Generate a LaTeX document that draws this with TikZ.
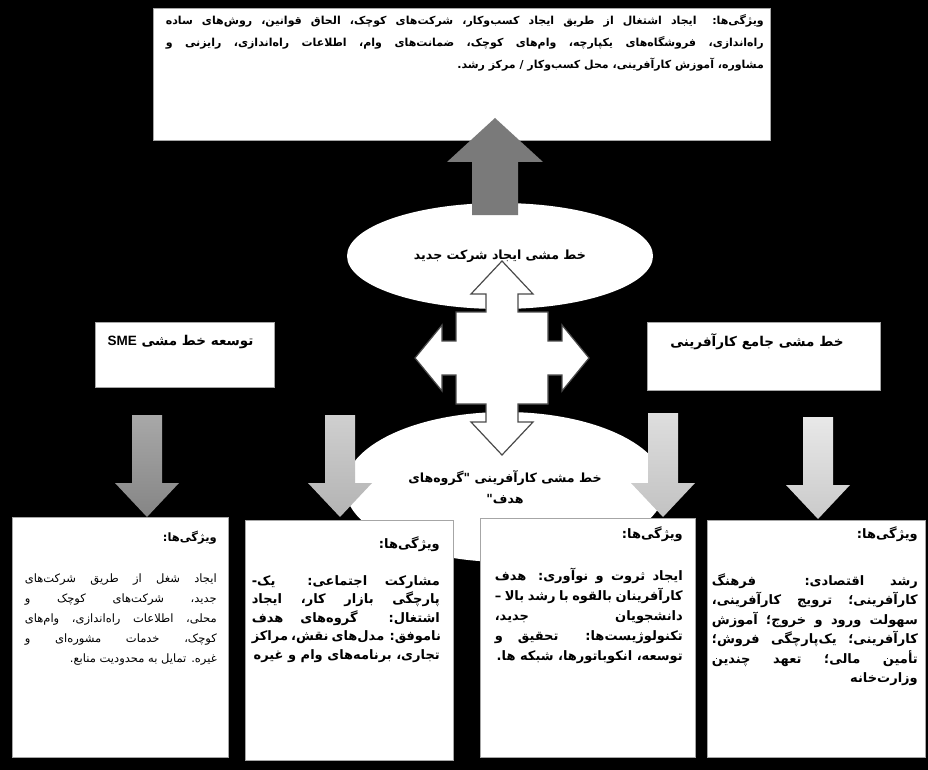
\documentclass[tikz,border=0pt]{standalone}
\usepackage{fontspec}
\usetikzlibrary{shapes.geometric,positioning}
\newfontfamily\fa[Script=Arabic]{DejaVu Sans}
\newfontfamily\lat{Liberation Sans}
\TeXXeTstate=1
\definecolor{uparr}{HTML}{7A7A7A}
\definecolor{rim}{HTML}{4A4A4A}
\definecolor{aonet}{HTML}{A8A8A8}
\definecolor{aoneb}{HTML}{858585}
\definecolor{atwot}{HTML}{CFCFCF}
\definecolor{atwob}{HTML}{B3B3B3}
\definecolor{athrt}{HTML}{DEDEDE}
\definecolor{athrb}{HTML}{C2C2C2}
\definecolor{afourt}{HTML}{E8E8E8}
\definecolor{afourb}{HTML}{CACACA}
% justified line and last line of a right-to-left paragraph
\newcommand{\jline}[1]{\hbox to \hsize{\beginR #1\endR}}
\newcommand{\rline}[1]{\hbox to \hsize{\hfill\beginR #1\endR}}

\begin{document}
\begin{tikzpicture}[x=1pt,y=-1pt,font=\fa]
    \tikzstyle{wbox}=[draw=gray!70,fill=white,line width=0.8pt,inner sep=0pt,anchor=north west]
    \tikzstyle{oval}=[fill=white,ellipse,inner sep=0pt,align=center,font=\fa\bfseries\fontsize{12.6}{20}\selectfont]
    \tikzstyle{title}=[anchor=east,font=\fa\bfseries\fontsize{13.5}{16}\selectfont]
    \tikzstyle{btext}=[anchor=north east,inner sep=0pt,font=\fa\bfseries\fontsize{13}{20}\selectfont]
    \tikzstyle{ttext}=[anchor=north east,inner sep=0pt,font=\fa\bfseries\fontsize{11}{22}\selectfont]

    \useasboundingbox (0,0) rectangle (928,770);
    \fill[black] (0,0) rectangle (928,770);

    \node[wbox,minimum width=617,minimum height=132] (top) at (153,8) {};
    \node[ttext] (topt) at (764,14) {\vbox{\hsize=598pt
        \jline{ویژگی‌ها: ایجاد اشتغال از طریق ایجاد کسب‌وکار، شرکت‌های کوچک، الحاق قوانین، روش‌های ساده}
        \jline{راه‌اندازی، فروشگاه‌های یکپارچه، وام‌های کوچک، ضمانت‌های وام، اطلاعات راه‌اندازی، رایزنی و}
        \rline{مشاوره، آموزش کارآفرینی، محل کسب‌وکار / مرکز رشد.}}};

    \node[oval,minimum width=306,minimum height=106] (e1) at (500,256) {\beginR خط مشی ایجاد شرکت جدید\endR};
    \node[oval,minimum width=320,minimum height=150] (e2) at (505,487) {\beginR خط مشی کارآفرینی "گروه‌های\endR\\[1pt]\beginR هدف"\endR};

    \node[wbox,minimum width=179,minimum height=65] (sme) at (95,322) {};
    \node[title] (smet) at (257,342) {\beginR توسعه خط مشی \beginL{\lat SME}\endL\endR};
    \node[wbox,minimum width=233,minimum height=68] (gen) at (647,322) {};
    \node[title] (gent) at (847,342) {\beginR خط مشی جامع کارآفرینی\endR};

    \node[wbox,minimum width=216,minimum height=240] (b1) at (12,517) {};
    \node[wbox,minimum width=208,minimum height=240] (b2) at (245,520) {};
    \node[wbox,minimum width=215,minimum height=239] (b3) at (480,518) {};
    \node[wbox,minimum width=218,minimum height=237] (b4) at (707,520) {};

    \node[btext,font=\fa\fontsize{11.5}{20}\selectfont] (t1) at (217,531) {\vbox{\hsize=192pt
        \rline{\bfseries ویژگی‌ها:}\vskip 21pt
        \jline{ایجاد شغل از طریق شرکت‌های}
        \jline{جدید، شرکت‌های کوچک و}
        \jline{محلی، اطلاعات راه‌اندازی، وام‌های}
        \jline{کوچک، خدمات مشوره‌ای و}
        \rline{غیره. تمایل به محدودیت منابع.}}};
    \node[btext,font=\fa\bfseries\fontsize{13}{18.5}\selectfont] (t2) at (440,536) {\vbox{\hsize=188pt
        \rline{ویژگی‌ها:}\vskip 18.5pt
        \jline{مشارکت اجتماعی: یک-}
        \jline{پارچگی بازار کار، ایجاد}
        \jline{اشتغال: گروه‌های هدف}
        \jline{ناموفق: مدل‌های نقش، مراکز}
        \rline{تجاری، برنامه‌های وام و غیره}}};
    \node[btext] (t3) at (683,526) {\vbox{\hsize=188pt
        \rline{ویژگی‌ها:}\vskip 22pt
        \jline{ایجاد ثروت و نوآوری: هدف}
        \jline{کارآفرینان بالقوه با رشد بالا –}
        \jline{دانشجویان جدید،}
        \jline{تکنولوژیست‌ها: تحقیق و}
        \rline{توسعه، انکوباتورها، شبکه ها.}}};
    \node[btext,font=\fa\bfseries\fontsize{13}{19.5}\selectfont] (t4) at (918,526) {\vbox{\hsize=206pt
        \rline{ویژگی‌ها:}\vskip 27.5pt
        \jline{رشد اقتصادی: فرهنگ}
        \jline{کارآفرینی؛ ترویج کارآفرینی،}
        \jline{سهولت ورود و خروج؛ آموزش}
        \jline{کارآفرینی؛ یک‌پارچگی فروش؛}
        \jline{تأمین مالی؛ تعهد چندین}
        \rline{وزارت‌خانه}}};

    % up arrow into the top box
    \fill[uparr] (472,215) -- (472,162) -- (447,162) -- (495,118) -- (543,162) -- (518,162) -- (518,215) -- cycle;

    % four-way arrow between the ovals
    \begin{scope}[shift={(502,358)}]
        \draw[fill=white,draw=rim,line width=1.2pt,line join=miter]
            (0,-97) -- (31,-64) -- (16,-64) -- (16,-46) -- (46,-46) -- (46,-17) -- (60,-17) -- (60,-33)
            -- (87,0) -- (60,33) -- (60,17) -- (46,17) -- (46,46) -- (16,46) -- (16,64) -- (31,64)
            -- (0,97) -- (-31,64) -- (-16,64) -- (-16,46) -- (-46,46) -- (-46,17) -- (-60,17) -- (-60,33)
            -- (-87,0) -- (-60,-33) -- (-60,-17) -- (-46,-17) -- (-46,-46) -- (-16,-46) -- (-16,-64) -- (-31,-64) -- cycle;
    \end{scope}

    % down arrows onto the boxes
    \shade[top color=aonet,bottom color=aoneb] (132,415) -- (162,415) -- (162,483) -- (179,483) -- (147,517) -- (115,483) -- (132,483) -- cycle;
    \shade[top color=atwot,bottom color=atwob] (325,415) -- (355,415) -- (355,483) -- (372,483) -- (340,517) -- (308,483) -- (325,483) -- cycle;
    \shade[top color=athrt,bottom color=athrb] (648,413) -- (678,413) -- (678,483) -- (695,483) -- (663,517) -- (631,483) -- (648,483) -- cycle;
    \shade[top color=afourt,bottom color=afourb] (803,417) -- (833,417) -- (833,485) -- (850,485) -- (818,519) -- (786,485) -- (803,485) -- cycle;
\end{tikzpicture}
\end{document}
